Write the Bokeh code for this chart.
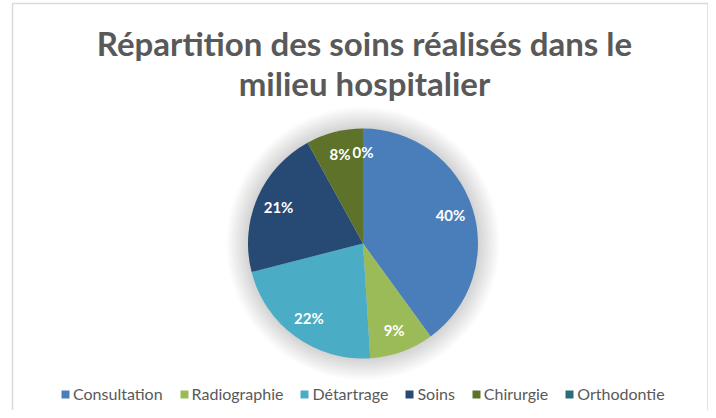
import math
from bokeh.plotting import figure
from bokeh.models import Range1d, Legend, LegendItem
from bokeh.core.properties import value
from bokeh.embed import file_html
from bokeh.resources import INLINE

# ---- data ----
title_lines = ["Répartition des soins réalisés dans le", "milieu hospitalier"]
categories = ["Consultation", "Radiographie", "Détartrage", "Soins", "Chirurgie", "Orthodontie"]
percents = [40, 9, 22, 21, 8, 0]
colors = ["#4a7ebb", "#9bbb59", "#4bacc6", "#264a73", "#5e7229", "#2c6b7e"]

W, H = 708, 410


def X(px):
    return px


def Y(py):
    return H - py


p = figure(width=W, height=H, output_backend="svg", toolbar_location=None,
           x_range=Range1d(0, W), y_range=Range1d(0, H),
           min_border=0, outline_line_color=None)
p.axis.visible = False
p.grid.visible = False
p.background_fill_color = "white"
p.border_fill_color = "white"

# chart border (left, top, right)
p.line([X(12), X(12)], [Y(3), Y(418)], line_color="#d9d9d9", line_width=1.5)
p.line([X(12), X(707.5)], [Y(3), Y(3)], line_color="#d9d9d9", line_width=1.5)
p.line([X(707.5), X(707.5)], [Y(3), Y(418)], line_color="#d9d9d9", line_width=1.5)

# title
title_font = value("Lato")
for line, mid in zip(title_lines, [42, 82]):
    p.text(x=[X(364)], y=[Y(mid)], text=[line], text_font=title_font,
           text_font_size="33px", text_font_style="bold", text_color="#595959",
           text_align="center", text_baseline="middle")

# pie geometry
cx, cy, R = X(362.5), Y(243), 115

# soft halo
for i in range(22, 0, -1):
    p.circle(x=[cx], y=[cy], radius=R + i, fill_color="#000000", fill_alpha=0.007,
             line_color=None)

total = float(sum(percents))
cum = 0.0
renderers, mids = [], []
for cat, v, col in zip(categories, percents, colors):
    a0 = math.pi / 2 - 2 * math.pi * cum / total
    cum += v
    a1 = math.pi / 2 - 2 * math.pi * cum / total
    mids.append((a0 + a1) / 2)
    r = p.wedge(x=[cx], y=[cy], radius=R if v > 0 else 0, start_angle=a0,
                end_angle=a1 if v > 0 else a0 - 1e-6,
                direction="clock", fill_color=col, line_color=None)
    renderers.append(r)

# labels
lr = 0.8 * R
lx = [cx + lr * math.cos(m) for m in mids]
ly = [cy + lr * math.sin(m) for m in mids]
labels = [f"{v}%" for v in percents]
p.text(x=lx, y=ly, text=labels, text_font=value("Lato"), text_font_size="15px",
       text_font_style="bold", text_color="white", text_align="center",
       text_baseline="middle")

# legend
items = [LegendItem(label=c, renderers=[r]) for c, r in zip(categories, renderers)]
legend = Legend(items=items, orientation="horizontal", location=(60, 7),
                label_text_font="Lato", label_text_font_size="16px",
                label_text_color="#595959", glyph_width=10, glyph_height=10,
                label_standoff=3, spacing=16, padding=0, margin=0,
                border_line_color=None, background_fill_alpha=0)
p.add_layout(legend, "center")

open("out.html", "w").write(file_html(p, INLINE))
